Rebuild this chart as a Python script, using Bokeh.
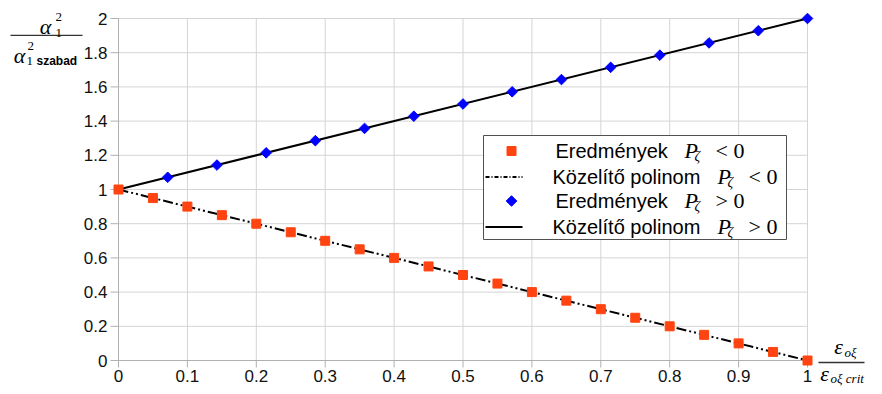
from bokeh.plotting import figure
from bokeh.models import Range1d, Label
from bokeh.core.properties import value
from bokeh.embed import file_html
from bokeh.resources import INLINE

# ---- data ----
x_neg = [0.0, 0.05, 0.1, 0.15, 0.2, 0.25, 0.3, 0.35, 0.4, 0.45, 0.5,
         0.55, 0.6, 0.65, 0.7, 0.75, 0.8, 0.85, 0.9, 0.95, 1.0]
y_neg = [1.0, 0.95, 0.9, 0.85, 0.8, 0.75, 0.7, 0.65, 0.6, 0.55, 0.5,
         0.45, 0.4, 0.35, 0.3, 0.25, 0.2, 0.15, 0.1, 0.05, 0.0]
x_pos = [0.0714, 0.1429, 0.2143, 0.2857, 0.3571, 0.4286, 0.5,
         0.5714, 0.6429, 0.7143, 0.7857, 0.8571, 0.9286, 1.0]
y_pos = [1.0714, 1.1429, 1.2143, 1.2857, 1.3571, 1.4286, 1.5,
         1.5714, 1.6429, 1.7143, 1.7857, 1.8571, 1.9286, 2.0]
x_fit = [0.0, 1.0]
y_fit_neg = [1.0, 0.0]
y_fit_pos = [1.0, 2.0]
x_ticks = [0.0, 0.1, 0.2, 0.3, 0.4, 0.5, 0.6, 0.7, 0.8, 0.9, 1.0]
x_tick_labels = ["0", "0.1", "0.2", "0.3", "0.4", "0.5", "0.6", "0.7", "0.8", "0.9", "1"]
y_ticks = [0.0, 0.2, 0.4, 0.6, 0.8, 1.0, 1.2, 1.4, 1.6, 1.8, 2.0]
y_tick_labels = ["0", "0.2", "0.4", "0.6", "0.8", "1", "1.2", "1.4", "1.6", "1.8", "2"]
legend_texts = ["Eredmények", "Közelítő polinom", "Eredmények", "Közelítő polinom"]
legend_rels = ["< 0", "< 0", "> 0", "> 0"]

RED = "#ff4411"
BLUE = "#0000ff"
GRID = "#d4d4d4"
AXIS = "#b0b0b0"
SANS = "Liberation Sans"
SERIF = "Liberation Serif"

W, H = 866, 386
X0, XS = 118.0, 689.0   # canvas px of x=0, px per unit
Y0, YS = 360.0, 171.0   # canvas px of y=0, px per unit


def dx(px):
    return (px - X0) / XS


def dy(py):
    return (Y0 - py) / YS


p = figure(width=W, height=H, output_backend="svg", toolbar_location=None,
           x_axis_location=None, y_axis_location=None,
           x_range=Range1d(dx(0), dx(W)), y_range=Range1d(dy(H), dy(0)),
           min_border=0, min_border_left=0, min_border_right=0,
           min_border_top=0, min_border_bottom=0)
p.outline_line_color = None
p.background_fill_color = "white"
p.border_fill_color = "white"
p.grid.visible = False

n_x, n_y = len(x_ticks), len(y_ticks)
x_lo, x_hi = x_ticks[0], x_ticks[-1]
y_lo, y_hi = y_ticks[0], y_ticks[-1]

# grid lines
p.segment(x0=x_ticks, y0=[y_lo] * n_x, x1=x_ticks, y1=[y_hi] * n_x,
          line_color=GRID, line_width=1)
p.segment(x0=[x_lo] * n_y, y0=y_ticks, x1=[x_hi] * n_y, y1=y_ticks,
          line_color=GRID, line_width=1)
# axis lines
p.segment(x0=[x_lo], y0=[y_lo], x1=[x_hi], y1=[y_lo], line_color=AXIS, line_width=1)
p.segment(x0=[x_lo], y0=[y_lo], x1=[x_lo], y1=[y_hi], line_color=AXIS, line_width=1)
# tick marks (outward)
p.segment(x0=x_ticks, y0=[y_lo] * n_x, x1=x_ticks, y1=[y_lo - 7 / YS] * n_x,
          line_color=AXIS, line_width=1)
p.segment(x0=[x_lo] * n_y, y0=y_ticks, x1=[x_lo - 8 / XS] * n_y, y1=y_ticks,
          line_color=AXIS, line_width=1)
# tick labels
p.text(x=x_ticks, y=[y_lo] * n_x, text=x_tick_labels, text_align="center",
       text_baseline="top", y_offset=9, text_font=value(SANS),
       text_font_size="17px", text_color="#111111")
p.text(x=[x_lo] * n_y, y=y_ticks, text=y_tick_labels, text_align="right",
       text_baseline="middle", x_offset=-11, text_font=value(SANS),
       text_font_size="17px", text_color="#111111")

# data marks
p.line(x_fit, y_fit_pos, line_color="black", line_width=2)
p.line(x_fit, y_fit_neg, line_color="black", line_width=2, line_dash="10 3 2 3 2 3")
p.scatter(x_neg, y_neg, marker="square", size=9, fill_color=RED, line_color=RED)
p.scatter(x_pos, y_pos, marker="square", size=7.5, angle=0.7854,
          fill_color=BLUE, line_color=BLUE)


def lab(px, py, text, size, font=SANS, style="normal", align="left", color="black"):
    p.add_layout(Label(x=dx(px), y=dy(py), text=text, text_font=font,
                       text_font_size=size, text_font_style=style,
                       text_align=align, text_baseline="middle", text_color=color))


# legend (drawn as glyphs so the box sits over the grid)
p.quad(left=[dx(483)], right=[dx(786)], top=[dy(135)], bottom=[dy(239)],
       fill_color="white", line_color="#505050", line_width=1)
rows_y = [150.5, 176.5, 200.5, 226.5]
text_x = [555, 552, 555, 552]
p_x = [684, 717, 684, 717]
p.scatter([dx(511)], [dy(rows_y[0])], marker="square", size=9, fill_color=RED, line_color=RED)
p.scatter([dx(511)], [dy(rows_y[2])], marker="square", size=7.5, angle=0.7854,
          fill_color=BLUE, line_color=BLUE)
p.line([dx(485), dx(522)], [dy(rows_y[1])] * 2, line_color="black", line_width=2,
       line_dash="4 2 1 2")
p.line([dx(485), dx(522)], [dy(rows_y[3])] * 2, line_color="black", line_width=2)
for i in range(4):
    lab(text_x[i], rows_y[i], legend_texts[i], "20px")
    lab(p_x[i], rows_y[i] - 1, "P", "22px", SERIF, "italic")
    lab(p_x[i] + 10, rows_y[i] + 5, "ζ", "14px", SERIF, "italic")
    lab(p_x[i] + 31, rows_y[i] - 1, legend_rels[i], "22px", SERIF)

# y-axis label (fraction)
lab(45, 26, "α", "22px", SERIF, "italic", "center")
lab(55, 16, "2", "13px", SERIF, "normal", "left")
lab(55, 32, "1", "13px", SERIF, "normal", "left")
p.quad(left=[dx(10)], right=[dx(82)], top=[dy(34.2)], bottom=[dy(35.6)],
       fill_color="#333333", line_color=None)
lab(19, 55, "α", "22px", SERIF, "italic", "center")
lab(27, 45, "2", "13px", SERIF, "normal", "left")
lab(26, 60, "1", "13px", SERIF, "normal", "left")
lab(36, 60, "szabad", "12px", SANS, "bold", "left")

# x-axis label (fraction)
lab(838, 346, "ε", "22px", SERIF, "italic", "center")
lab(844, 352, "oξ", "13px", SERIF, "italic", "left")
p.quad(left=[dx(818)], right=[dx(864)], top=[dy(361.3)], bottom=[dy(362.7)],
       fill_color="#333333", line_color=None)
lab(824, 373, "ε", "22px", SERIF, "italic", "center")
lab(830, 378, "oξ crit", "13px", SERIF, "italic", "left")

open("out.html", "w").write(file_html(p, INLINE))
